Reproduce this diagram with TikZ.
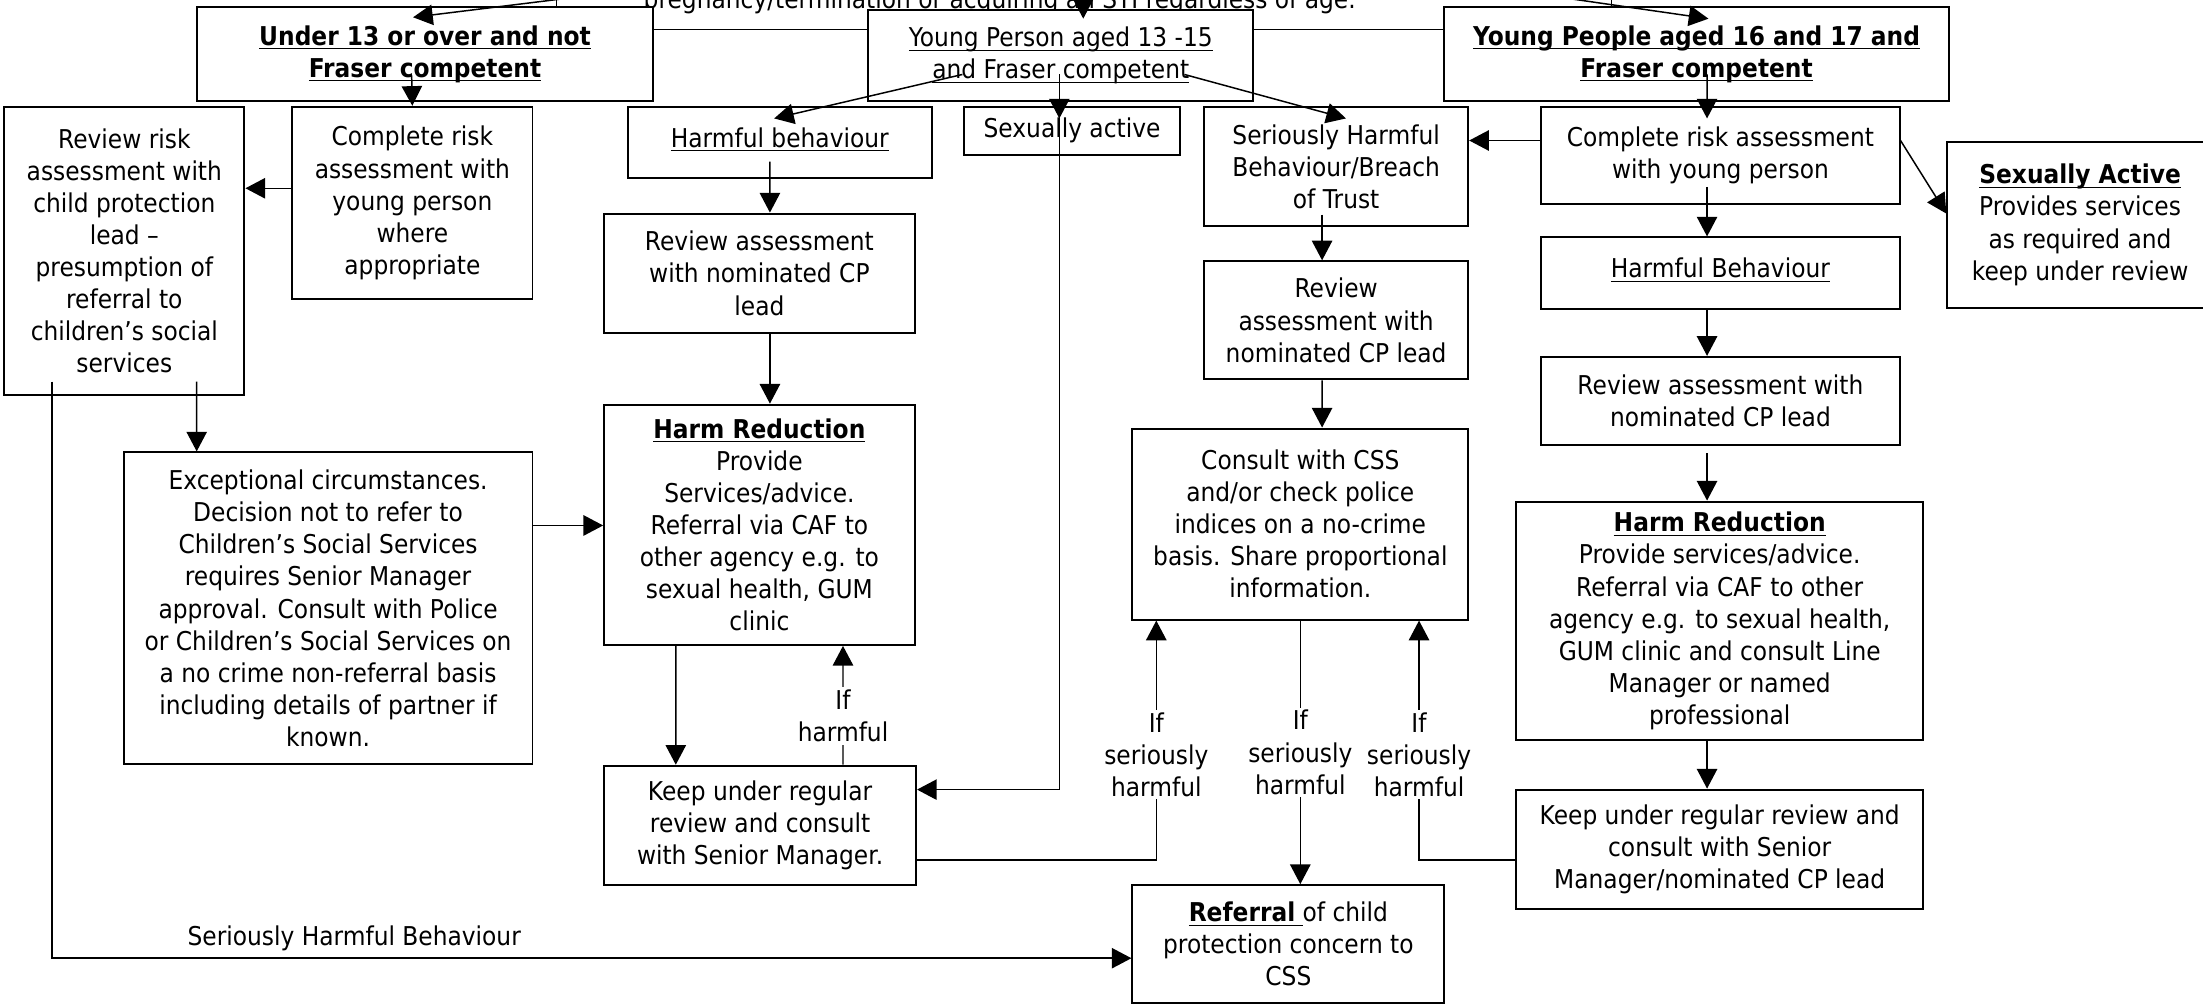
\documentclass[tikz,border=0pt]{standalone}
\usepackage{fontspec}
\setmainfont{DejaVu Sans}[FakeStretch=0.9]
\usetikzlibrary{arrows.meta}
\newcommand{\uln}[1]{\underline{\raisebox{0pt}[\height][0pt]{#1}}}

\begin{document}
\begin{tikzpicture}[x=0.2mm,y=-0.2mm,line width=0.6pt,
  >={Triangle[length=2.8mm,width=2.9mm]},
  box/.style={draw,line width=0.8pt,fill=white,align=center,inner sep=1pt,
    font=\fontsize{10.5}{13}\selectfont},
  note/.style={fill=white,align=center,inner sep=1pt,
    font=\fontsize{10.5}{13}\selectfont}]
  \useasboundingbox (0,0) rectangle (1568,715);
  \clip (0,0) rectangle (1568,715);

  \node[anchor=base,font=\fontsize{10.5}{13}\selectfont] (topnote) at (711.5,6)
    {pregnancy/termination or acquiring an STI regardless of age.};

  % top row
  \node[box,minimum width=65mm,minimum height=13.4mm] (under13) at (302.5,38.5)
    {\uln{\textbf{Under 13 or over and not}}\\\uln{\textbf{Fraser competent}}};
  \node[box,minimum width=54.8mm,minimum height=13mm] (yp13) at (755,39.5)
    {\uln{Young Person aged 13 -15}\\\uln{and Fraser competent}};
  \node[box,minimum width=71.8mm,minimum height=13.4mm] (yp1617) at (1207.5,38.5)
    {\uln{\textbf{Young People aged 16 and 17 and}}\\\uln{\textbf{Fraser competent}}};

  % under 13
  \node[box,minimum width=34.2mm,minimum height=41mm] (reviewrisk) at (88.5,178.5)
    {Review risk\\assessment with\\child protection\\lead --\\presumption of\\referral to\\children's social\\services};
  \node[box,minimum width=34.2mm,minimum height=27.4mm] (completeu) at (293.5,144.5)
    {Complete risk\\assessment with\\young person\\where\\appropriate};
  \node[box,minimum width=58.2mm,minimum height=44.4mm] (except) at (233.5,433)
    {Exceptional circumstances.\\Decision not to refer to\\Children's Social Services\\requires Senior Manager\\approval. Consult with Police\\or Children's Social Services on\\a no crime non-referral basis\\including details of partner if\\known.};

  % 13 - 15
  \node[box,minimum width=43.2mm,minimum height=10.2mm] (harmful) at (555,101.5)
    {\raisebox{1.5mm}{\uln{Harmful behaviour}}};
  \node[box,minimum width=30.8mm,minimum height=6.8mm] (sexact) at (763,93)
    {Sexually active};
  \node[box,minimum width=37.6mm,minimum height=17mm] (serious) at (951,118.5)
    {Seriously Harmful\\Behaviour/Breach\\of Trust};
  \node[box,minimum width=44.2mm,minimum height=17mm] (reviewl) at (540.5,194.5)
    {Review assessment\\with nominated CP\\lead};
  \node[box,minimum width=44.2mm,minimum height=34.2mm] (hrl) at (540.5,373.5)
    {\uln{\textbf{Harm Reduction}}\\Provide\\Services/advice.\\Referral via CAF to\\other agency e.g. to\\sexual health, GUM\\clinic};
  \node[box,minimum width=44.4mm,minimum height=17mm] (keepl) at (541,587.5)
    {Keep under regular\\review and consult\\with Senior Manager.};
  \node[box,minimum width=37.6mm,minimum height=16.8mm] (reviewm) at (951,228)
    {Review\\assessment with\\nominated CP lead};
  \node[box,minimum width=47.8mm,minimum height=27.2mm] (consult) at (925.5,373)
    {Consult with CSS\\and/or check police\\indices on a no-crime\\basis. Share proportional\\information.};
  \node[box,minimum width=44.4mm,minimum height=16.8mm] (referral) at (917,672)
    {\uln{\textbf{Referral}\ }of child\\protection concern to\\CSS};

  % 16 - 17
  \node[box,minimum width=51mm,minimum height=13.8mm] (completeo) at (1224.5,110.5)
    {Complete risk assessment\\with young person};
  \node[box,minimum width=37.8mm,minimum height=23.6mm] (sexactive) at (1480.5,160)
    {\uln{\textbf{Sexually Active}}\\Provides services\\as required and\\keep under review};
  \node[box,minimum width=51mm,minimum height=10.2mm] (harmfulr) at (1224.5,194.5)
    {\raisebox{1.5mm}{\uln{Harmful Behaviour}}};
  \node[box,minimum width=51mm,minimum height=12.6mm] (reviewr) at (1224.5,285.5)
    {Review assessment with\\nominated CP lead};
  \node[box,minimum width=58mm,minimum height=34mm] (hrr) at (1224,442)
    {\uln{\textbf{Harm Reduction}}\\Provide services/advice.\\Referral via CAF to other\\agency e.g. to sexual health,\\GUM clinic and consult Line\\Manager or named\\professional};
  \node[box,minimum width=58mm,minimum height=17mm] (keepr) at (1224,604.5)
    {Keep under regular review and\\consult with Senior\\Manager/nominated CP lead};

  % links coming in from above
  \coordinate (up1) at (418,-3);
  \coordinate (up2) at (771,-3);
  \coordinate (up3) at (1103,-3);
  \coordinate (up4) at (396,-3);
  \coordinate (up5) at (1147,-3);
  \draw[->] (up1) -- ([xshift=-1.7mm,yshift=-1.6mm]under13.north);
  \draw[->] (up2) -- ([xshift=3.2mm,yshift=-1.4mm]yp13.north);
  \draw[->] (up3) -- ([xshift=1.7mm,yshift=-1.8mm]yp1617.north);
  \draw (up4) -- (up4 |- under13.north);
  \draw (up5) -- (up5 |- yp1617.north);

  \coordinate (j1) at ([yshift=3.5mm]under13.east);
  \draw (j1) -- (j1 -| yp13.west);
  \coordinate (j2) at ([yshift=3.7mm]yp13.east);
  \draw (j2) -- (j2 -| yp1617.west);

  % under 13 branch
  \draw[->] ([xshift=-1.9mm,yshift=3.8mm]under13.south) -- (completeu.north);
  \coordinate (j3) at ([yshift=2.1mm]completeu.west);
  \draw[->] (j3) -- (j3 -| reviewrisk.east);
  \draw[->] ([xshift=10.3mm,yshift=2mm]reviewrisk.south) -- ([xshift=-18.7mm]except.north);
  \coordinate (j4) at ([yshift=11.8mm]except.east);
  \draw[->] (j4) -- (j4 -| hrl.west);
  \coordinate (j5) at ([xshift=-10.3mm,yshift=2mm]reviewrisk.south);
  \coordinate (j6) at ([yshift=-2mm]referral.west);
  \draw[->] (j5) |- node[pos=0.64,above=0.6mm,note] {Seriously Harmful Behaviour} (j6);

  % 13 - 15 branch
  \draw[->] ([xshift=-14mm,yshift=-2.7mm]yp13.center) -- ([xshift=-0.8mm,yshift=-1.8mm]harmful.north);
  \coordinate (j7) at ([xshift=-0.2mm,yshift=-2.7mm]yp13.center);
  \coordinate (j8) at ([yshift=-1.8mm]sexact.north);
  \draw[->] (j7) -- (j7 |- j8);
  \coordinate (j9) at ([yshift=5.1mm]keepl.east);
  \draw[->] (j7) |- (j9);
  \draw[->] ([xshift=17.6mm,yshift=-2.7mm]yp13.center) -- ([xshift=1.4mm,yshift=-1.8mm]serious.north);

  \draw[->] ([xshift=-1.4mm,yshift=-2.7mm]harmful.center) -- ([xshift=1.5mm]reviewl.north);
  \draw[->] ([xshift=1.5mm]reviewl.south) -- ([xshift=1.5mm]hrl.north);
  \draw[->] ([xshift=-11.9mm]hrl.south) -- ([xshift=-12mm]keepl.north);
  \draw[->] ([xshift=11.8mm]keepl.north) -- node[pos=0.41,note] {If\\harmful} ([xshift=11.9mm]hrl.south);

  \draw[->] ([xshift=-2mm,yshift=1.8mm]serious.south) -- ([xshift=-2mm]reviewm.north);
  \draw[->] ([xshift=-2mm]reviewm.south) -- ([xshift=3.1mm]consult.north);
  \coordinate (j10) at ([yshift=-4.9mm]keepl.east);
  \coordinate (j11) at ([xshift=-20.5mm]consult.south);
  \draw[->] (j10) -| node[pos=0.72,note] {If\\seriously\\harmful} (j11);
  \draw[->] (consult.south) -- node[note] {If\\seriously\\harmful} (consult.south |- referral.north);
  \coordinate (j12) at ([yshift=-1.5mm]keepr.west);
  \coordinate (j13) at ([xshift=16.9mm]consult.south);
  \draw[->] (j12) -| node[pos=0.72,note] {If\\seriously\\harmful} (j13);

  % 16 - 17 branch
  \draw[->] ([xshift=1.5mm,yshift=-2.9mm]yp1617.center) -- ([xshift=-1.9mm,yshift=-1.8mm]completeo.north);
  \coordinate (j14) at ([yshift=2.1mm]completeo.west);
  \draw[->] (j14) -- (j14 -| serious.east);
  \draw[->] ([yshift=2.1mm]completeo.east) -- ([yshift=1.6mm]sexactive.west);
  \draw[->] ([xshift=-1.9mm,yshift=-4.5mm]completeo.center) -- ([xshift=-1.9mm]harmfulr.north);
  \draw[->] ([xshift=-1.9mm]harmfulr.south) -- ([xshift=-1.9mm]reviewr.north);
  \draw[->] ([xshift=-1.9mm,yshift=-1mm]reviewr.south) -- ([xshift=-1.8mm]hrr.north);
  \draw[->] ([xshift=-1.8mm]hrr.south) -- ([xshift=-1.8mm]keepr.north);
\end{tikzpicture}
\end{document}
